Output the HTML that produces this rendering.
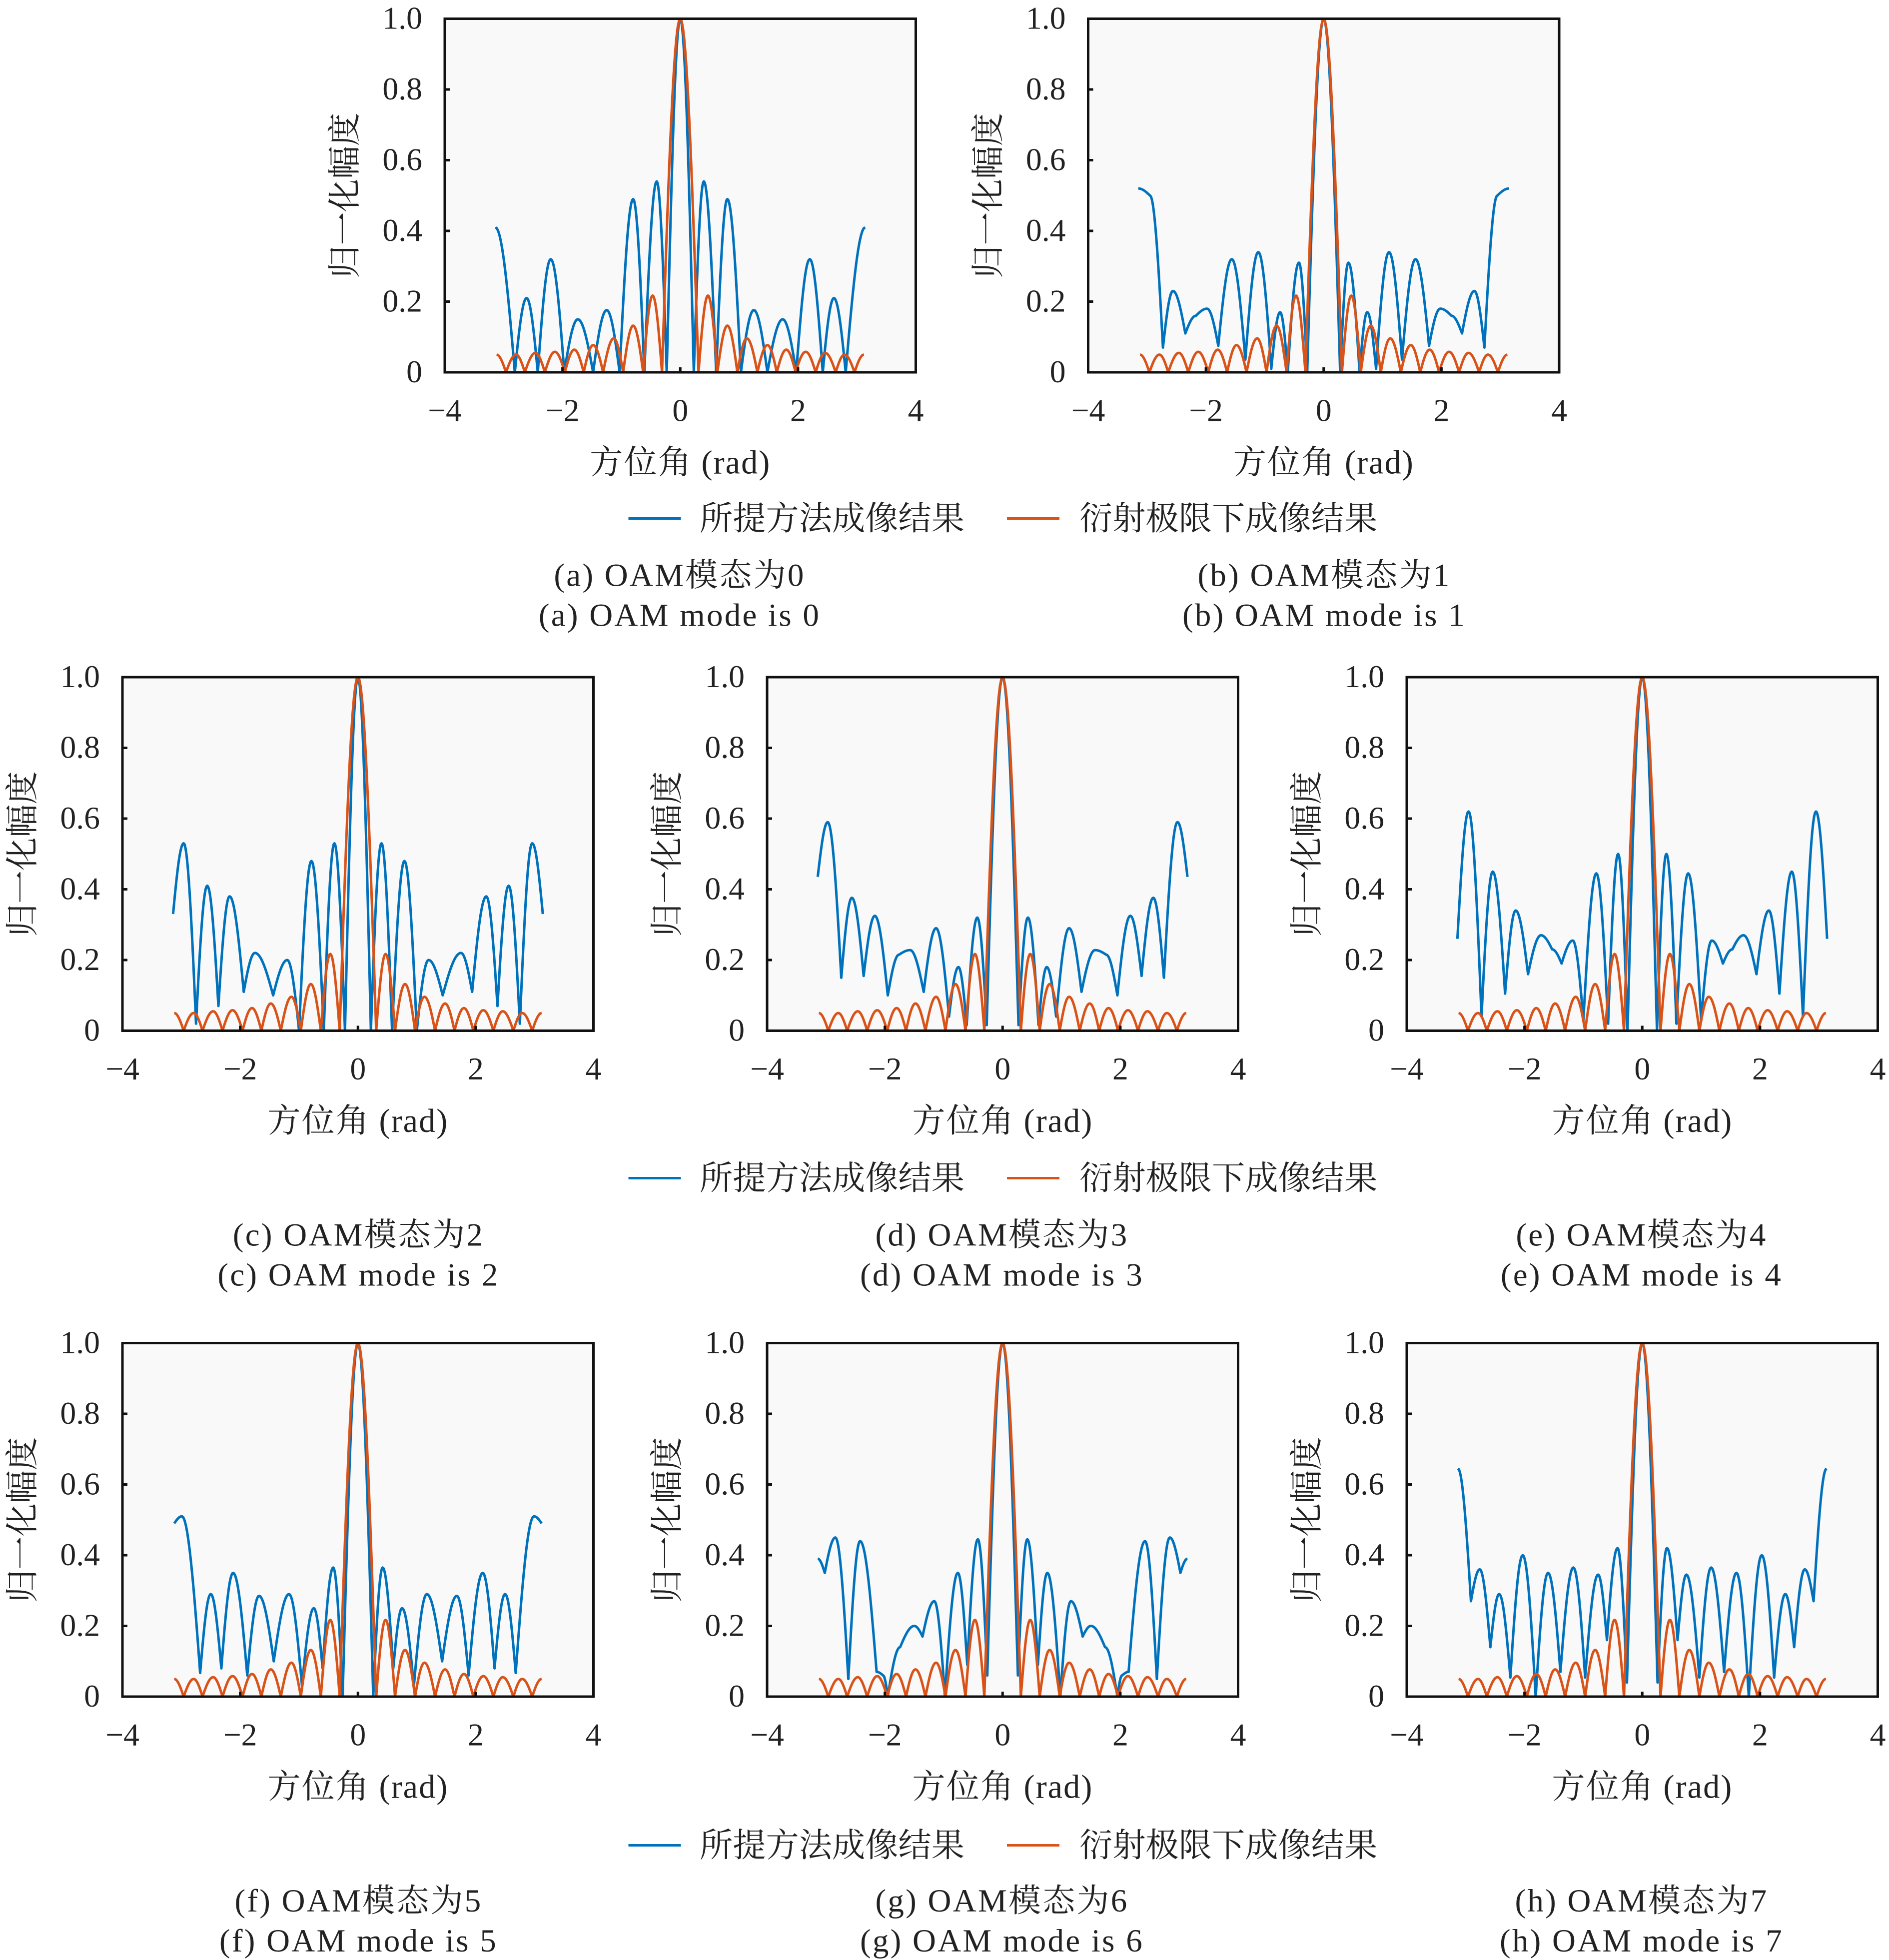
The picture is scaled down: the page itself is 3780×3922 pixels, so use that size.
<!DOCTYPE html>
<html><head><meta charset="utf-8">
<style>
html,body{margin:0;padding:0;background:#fff;}
svg{display:block;}
text{font-family:"Liberation Serif","Noto Serif CJK SC","Noto Sans CJK SC",serif;fill:#222;}
</style></head>
<body>
<svg id="fig" xmlns="http://www.w3.org/2000/svg" width="3780" height="3922" viewBox="0 0 1512 1568.8">
<rect x="0" y="0" width="1512" height="1568.8" fill="#fff"/>
<g id="legend1">
<line x1="503" y1="415" x2="545" y2="415" stroke="#0072bd" stroke-width="2"/>
<text x="560" y="424" font-size="26.5">所提方法成像结果</text>
<line x1="806" y1="415" x2="848" y2="415" stroke="#d95319" stroke-width="2"/>
<text x="864" y="424" font-size="26.5">衍射极限下成像结果</text>
</g>
<g id="legend2">
<line x1="503" y1="943" x2="545" y2="943" stroke="#0072bd" stroke-width="2"/>
<text x="560" y="952" font-size="26.5">所提方法成像结果</text>
<line x1="806" y1="943" x2="848" y2="943" stroke="#d95319" stroke-width="2"/>
<text x="864" y="952" font-size="26.5">衍射极限下成像结果</text>
</g>
<g id="legend3">
<line x1="503" y1="1477" x2="545" y2="1477" stroke="#0072bd" stroke-width="2"/>
<text x="560" y="1486" font-size="26.5">所提方法成像结果</text>
<line x1="806" y1="1477" x2="848" y2="1477" stroke="#d95319" stroke-width="2"/>
<text x="864" y="1486" font-size="26.5">衍射极限下成像结果</text>
</g>
<g font-size="26" text-anchor="middle" letter-spacing="1.3">
<text x="544" y="469">(a) OAM模态为0</text><text x="544" y="501">(a) OAM mode is 0</text>
<text x="1060" y="469">(b) OAM模态为1</text><text x="1060" y="501">(b) OAM mode is 1</text>
<text x="287" y="997">(c) OAM模态为2</text><text x="287" y="1029">(c) OAM mode is 2</text>
<text x="802" y="997">(d) OAM模态为3</text><text x="802" y="1029">(d) OAM mode is 3</text>
<text x="1314" y="997">(e) OAM模态为4</text><text x="1314" y="1029">(e) OAM mode is 4</text>
<text x="287" y="1530">(f) OAM模态为5</text><text x="287" y="1562">(f) OAM mode is 5</text>
<text x="802" y="1530">(g) OAM模态为6</text><text x="802" y="1562">(g) OAM mode is 6</text>
<text x="1314" y="1530">(h) OAM模态为7</text><text x="1314" y="1562">(h) OAM mode is 7</text>
</g>
</svg>
<script>
const xTicks = [-4, -2, 0, 2, 4];
const xTickLabels = ["\u22124", "\u22122", "0", "2", "4"];
const yTicks = [0, 0.2, 0.4, 0.6, 0.8, 1.0];
const yTickLabels = ["0", "0.2", "0.4", "0.6", "0.8", "1.0"];

const orangeX = [-3.12,-2.96,-2.79,-2.64,-2.46,-2.30,-2.13,-1.96,-1.80,-1.64,-1.48,-1.31,-1.13,-0.97,-0.80,-0.63,-0.47,-0.31,0,0.31,0.47,0.63,0.80,0.97,1.13,1.31,1.48,1.64,1.80,1.96,2.13,2.30,2.46,2.64,2.79,2.96,3.12];
const orangeY = [0.05,0,0.05,0,0.055,0,0.058,0,0.064,0,0.077,0,0.096,0,0.132,0,0.217,0,1,0,0.217,0,0.132,0,0.096,0,0.077,0,0.064,0,0.058,0,0.055,0,0.05,0,0.05];

const blueXa = [-3.14,-2.81,-2.61,-2.42,-2.2,-1.97,-1.74,-1.48,-1.25,-1.03,-0.8,-0.61,-0.4,-0.23,0,0.23,0.4,0.61,0.8,1.03,1.25,1.48,1.74,1.97,2.2,2.42,2.61,2.81,3.14];
const blueYa = [0.41,0,0.21,0,0.32,0,0.15,0,0.176,0,0.49,0,0.54,0,1,0,0.54,0,0.49,0,0.176,0,0.15,0,0.32,0,0.21,0,0.41];

const blueXb = [-3.15,-2.95,-2.73,-2.56,-2.35,-2.17,-1.98,-1.79,-1.56,-1.33,-1.11,-0.89,-0.74,-0.61,-0.42,-0.28,0,0.28,0.42,0.61,0.74,0.89,1.11,1.33,1.56,1.79,1.98,2.17,2.35,2.56,2.73,2.95,3.15];
const blueYb = [0.52,0.50,0.07,0.23,0.11,0.16,0.18,0.075,0.32,0.036,0.34,0.01,0.17,0,0.31,0,1,0,0.31,0,0.17,0.01,0.34,0.036,0.32,0.075,0.18,0.16,0.11,0.23,0.07,0.50,0.52];

const blueXc = [-3.14,-2.96,-2.75,-2.56,-2.37,-2.18,-1.94,-1.75,-1.44,-1.20,-1.0,-0.79,-0.58,-0.40,-0.22,0,0.22,0.40,0.58,0.79,1.0,1.20,1.44,1.75,1.94,2.18,2.37,2.56,2.75,2.96,3.14];
const blueYc = [0.33,0.53,0.02,0.41,0.07,0.38,0.11,0.22,0.10,0.20,0,0.48,0,0.53,0,1,0,0.53,0,0.48,0,0.20,0.10,0.22,0.11,0.38,0.07,0.41,0.02,0.53,0.33];

const blueXd = [-3.14,-2.97,-2.74,-2.56,-2.36,-2.17,-1.95,-1.76,-1.57,-1.34,-1.13,-0.91,-0.75,-0.61,-0.43,-0.27,0,0.27,0.43,0.61,0.75,0.91,1.13,1.34,1.57,1.76,1.95,2.17,2.36,2.56,2.74,2.97,3.14];
const blueYd = [0.435,0.59,0.15,0.376,0.155,0.325,0.10,0.215,0.228,0.11,0.29,0.04,0.18,0.016,0.32,0.016,1,0.016,0.32,0.016,0.18,0.04,0.29,0.11,0.228,0.215,0.10,0.325,0.155,0.376,0.15,0.59,0.435];

const blueXe = [-3.14,-2.95,-2.73,-2.54,-2.33,-2.15,-1.94,-1.72,-1.53,-1.37,-1.18,-1.0,-0.78,-0.58,-0.41,-0.25,0,0.25,0.41,0.58,0.78,1.0,1.18,1.37,1.53,1.72,1.94,2.15,2.33,2.54,2.73,2.95,3.14];
const blueYe = [0.26,0.62,0.04,0.45,0.105,0.34,0.16,0.27,0.23,0.19,0.255,0.03,0.445,0.02,0.50,0,1,0,0.50,0.02,0.445,0.03,0.255,0.19,0.23,0.27,0.16,0.34,0.105,0.45,0.04,0.62,0.26];

const blueXf = [-3.12,-2.99,-2.68,-2.50,-2.32,-2.12,-1.88,-1.68,-1.43,-1.17,-0.95,-0.75,-0.60,-0.42,-0.26,0,0.26,0.42,0.60,0.75,0.95,1.17,1.43,1.68,1.88,2.12,2.32,2.50,2.68,2.99,3.12];
const blueYf = [0.49,0.51,0.067,0.29,0.08,0.35,0.06,0.285,0.10,0.29,0.03,0.25,0.08,0.365,0,1,0,0.365,0.08,0.25,0.03,0.29,0.10,0.285,0.06,0.35,0.08,0.29,0.067,0.51,0.49];

const blueXg = [-3.14,-3.02,-2.84,-2.62,-2.42,-2.14,-2.03,-1.95,-1.74,-1.50,-1.36,-1.16,-0.98,-0.76,-0.60,-0.42,-0.26,0,0.26,0.42,0.60,0.76,0.98,1.16,1.36,1.50,1.74,1.95,2.03,2.14,2.42,2.62,2.84,3.02,3.14];
const blueYg = [0.39,0.35,0.45,0.05,0.44,0.07,0.06,0,0.14,0.20,0.17,0.27,0,0.35,0.09,0.445,0.06,1,0.06,0.445,0.09,0.35,0,0.27,0.17,0.20,0.14,0,0.06,0.07,0.44,0.05,0.45,0.35,0.39];

const blueXh = [-3.13,-2.91,-2.76,-2.58,-2.43,-2.24,-2.03,-1.81,-1.60,-1.39,-1.17,-0.97,-0.75,-0.60,-0.42,-0.26,0,0.26,0.42,0.60,0.75,0.97,1.17,1.39,1.60,1.81,2.03,2.24,2.43,2.58,2.76,2.91,3.13];
const blueYh = [0.645,0.27,0.36,0.14,0.29,0.054,0.40,0,0.35,0.07,0.365,0.054,0.345,0.16,0.42,0.04,1,0.04,0.42,0.16,0.345,0.054,0.365,0.07,0.35,0,0.40,0.054,0.29,0.14,0.36,0.27,0.645];

const W = 377, H = 283;
const panels = [
  {id:'a', x0:356, y0:15, bx:blueXa, by:blueYa},
  {id:'b', x0:871, y0:15, bx:blueXb, by:blueYb},
  {id:'c', x0:98, y0:542, bx:blueXc, by:blueYc},
  {id:'d', x0:614, y0:542, bx:blueXd, by:blueYd},
  {id:'e', x0:1126, y0:542, bx:blueXe, by:blueYe},
  {id:'f', x0:98, y0:1075, bx:blueXf, by:blueYf},
  {id:'g', x0:614, y0:1075, bx:blueXg, by:blueYg},
  {id:'h', x0:1126, y0:1075, bx:blueXh, by:blueYh}
];
const NS = "http://www.w3.org/2000/svg";
const svg = document.getElementById('fig');
function mk(tag, attrs, parent) {
  const el = document.createElementNS(NS, tag);
  for (const k in attrs) el.setAttribute(k, attrs[k]);
  parent.appendChild(el);
  return el;
}
function curvePath(xs, ys, sx, sy) {
  let d = 'M' + sx(xs[0]).toFixed(2) + ',' + sy(ys[0]).toFixed(2);
  for (let i = 1; i < xs.length; i++) {
    const xa = xs[i-1], xb = xs[i], ya = ys[i-1], yb = ys[i];
    const n = 14;
    for (let k = 1; k <= n; k++) {
      const t = k / n;
      const x = xa + (xb - xa) * t;
      let y;
      if (yb >= ya) y = ya + (yb - ya) * Math.sin(Math.PI * t / 2);
      else y = yb + (ya - yb) * Math.cos(Math.PI * t / 2);
      d += 'L' + sx(x).toFixed(2) + ',' + sy(y).toFixed(2);
    }
  }
  return d;
}
panels.forEach(p => {
  const g = mk('g', {}, svg);
  
  
  const sx = v => p.x0 + (v + 4) / 8 * W;
  const sy = v => p.y0 + H * (1 - v);
  const bg = mk('rect', {x:p.x0, y:p.y0, width:W, height:H, fill:'#f9f9f9'}, g);
  
  
  const clipId = 'clip' + p.id;
  const cp = mk('clipPath', {id:clipId}, g);
  mk('rect', {x:p.x0, y:p.y0 - 2, width:W, height:H + 2}, cp);
  const bl = mk('path', {d:curvePath(p.bx, p.by, sx, sy), fill:'none', stroke:'#0072bd', 'stroke-width':2, 'stroke-linejoin':'round', 'clip-path':'url(#' + clipId + ')'}, g);
  
  
  const ol = mk('path', {d:curvePath(orangeX, orangeY, sx, sy), fill:'none', stroke:'#d95319', 'stroke-width':2, 'stroke-linejoin':'round', 'clip-path':'url(#' + clipId + ')'}, g);
  
  
  const frame = mk('rect', {x:p.x0, y:p.y0, width:W, height:H, fill:'none', stroke:'#111', 'stroke-width':2}, g);
  
  
  yTicks.forEach((v, i) => {
    mk('line', {x1:p.x0, x2:p.x0 + 4, y1:sy(v), y2:sy(v), stroke:'#111', 'stroke-width':2}, g);
    const t = mk('text', {x:p.x0 - 18, y:sy(v) + 8, 'font-size':25.5, 'text-anchor':'end'}, g);
    t.textContent = yTickLabels[i];
    
    
  });
  xTicks.forEach((v, i) => {
    mk('line', {x1:sx(v), x2:sx(v), y1:p.y0 + H, y2:p.y0 + H - 4, stroke:'#111', 'stroke-width':2}, g);
    const t = mk('text', {x:sx(v), y:p.y0 + H + 39, 'font-size':25.5, 'text-anchor':'middle'}, g);
    t.textContent = xTickLabels[i];
    
    
  });
  const xl = mk('text', {x:p.x0 + W / 2, y:p.y0 + H + 81, 'font-size':26.5, 'text-anchor':'middle', 'letter-spacing':0.8}, g);
  xl.textContent = '方位角 (rad)';
  
  
  const cx = p.x0 - 80, cy = p.y0 + H / 2;
  const yl = mk('text', {x:cx, y:cy + 9, 'font-size':26.5, 'text-anchor':'middle', transform:'rotate(-90 ' + cx + ' ' + cy + ')'}, g);
  yl.textContent = '归一化幅度';
  
  
});
</script>
</body></html>
